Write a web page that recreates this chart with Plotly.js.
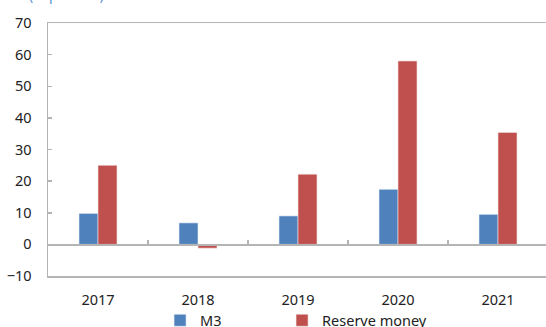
<!DOCTYPE html>
<html>
<head>
<meta charset="utf-8">
<script src="https://cdn.plot.ly/plotly-3.0.1.min.js"></script>
<style>
  html, body { margin: 0; padding: 0; background: #ffffff; }
  #chart { width: 546px; height: 327px; }
</style>
</head>
<body>
<div id="chart"></div>
<script>
// Annual growth, in percent
const years = ['2017', '2018', '2019', '2020', '2021'];
const m3 = [9.8, 6.8, 9.0, 17.4, 9.5];
const reserveMoney = [25.0, -1.2, 22.2, 58.0, 35.4];
const seriesNames = ['M3', 'Reserve money'];
const yTicks = [-10, 0, 10, 20, 30, 40, 50, 60, 70];

const axisGrey = '#b4b4b4';
const textColor = '#222222';
const fontFamily = '"Noto Sans", "Open Sans", sans-serif';

const traces = [
  {
    type: 'bar', name: seriesNames[0], x: years, y: m3, legend: 'legend',
    marker: { color: '#4f81bd', line: { color: '#e8eef6', width: 0.6 } }
  },
  {
    type: 'bar', name: seriesNames[1], x: years, y: reserveMoney, legend: 'legend2',
    marker: { color: '#c0504d', line: { color: '#f3e2e2', width: 0.6 } }
  },
  // empty helper trace so the zero-line axis (x2) gets drawn
  {
    type: 'scatter', mode: 'lines', x: years, y: years.map(() => null),
    xaxis: 'x2', yaxis: 'y', showlegend: false, hoverinfo: 'skip'
  }
];

// boundaries between year groups, used for the small ticks on the zero line
const boundaries = years.slice(1).map((_, i) => i + 0.5);

const legendBase = {
  orientation: 'h', xanchor: 'left', y: -0.112, yanchor: 'top',
  font: { size: 14.5, color: textColor },
  itemwidth: 30, bgcolor: 'rgba(0,0,0,0)'
};

const layout = {
  width: 546, height: 327,
  margin: { l: 48, r: 0, t: 23, b: 51, autoexpand: false },
  paper_bgcolor: '#ffffff', plot_bgcolor: '#ffffff',
  font: { family: fontFamily, size: 14.5, color: textColor },
  barmode: 'group', bargap: 0.62, bargroupgap: 0,
  showlegend: true,
  legend: Object.assign({}, legendBase, { x: 0.225 }),
  legend2: Object.assign({}, legendBase, { x: 0.47 }),
  xaxis: {
    type: 'category', range: [-0.5, 4.48],
    showline: true, mirror: true, linecolor: axisGrey, linewidth: 1.5,
    ticks: '', showgrid: false, zeroline: false,
    ticklabelstandoff: 10, fixedrange: true
  },
  xaxis2: {
    type: 'category', overlaying: 'x', matches: 'x', anchor: 'free', position: 0.125,
    tickmode: 'array', tickvals: boundaries, ticks: 'inside', ticklen: 4,
    tickwidth: 1.5, tickcolor: axisGrey,
    showline: true, linecolor: axisGrey, linewidth: 1.5,
    showticklabels: false, showgrid: false, zeroline: false
  },
  yaxis: {
    range: [-10, 70], tickmode: 'array', tickvals: yTicks,
    ticks: 'inside', ticklen: 4, tickwidth: 1.5, tickcolor: axisGrey,
    showline: true, linecolor: axisGrey, linewidth: 1.5,
    showgrid: false, zeroline: false, ticklabelstandoff: 12, fixedrange: true
  },
  annotations: [{
    text: '(in percent)', xref: 'paper', yref: 'paper', x: 0, y: 1,
    xanchor: 'left', yanchor: 'bottom', xshift: -21, yshift: 17,
    showarrow: false, font: { size: 14, color: '#5b93cf' }
  }]
};

Plotly.newPlot('chart', traces, layout, { displayModeBar: false, staticPlot: true });
</script>
</body>
</html>
